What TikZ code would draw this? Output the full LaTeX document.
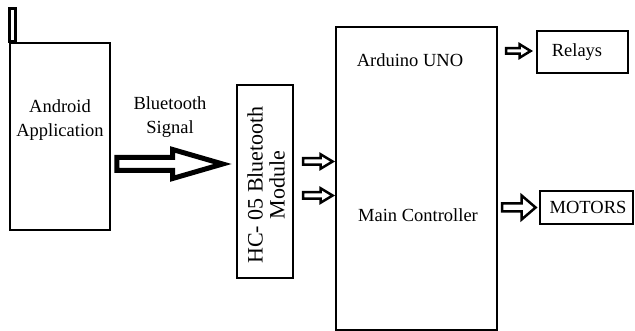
\documentclass[tikz,border=0pt]{standalone}
\usepackage{fontspec}
\setmainfont{Liberation Serif}
\usetikzlibrary{calc}
\tikzset{
  box/.style={draw=black, line width=2.8pt, fill=white, inner sep=0pt, minimum width=#1},
  lbl/.style={font=\fontsize{18.5}{24}\selectfont, align=center, inner sep=0pt},
  vlbl/.style={font=\fontsize{22}{22}\selectfont, align=center, inner sep=0pt, rotate=90},
  thinarr/.style={draw=black, line width=2.5pt, fill=white},
  bigarr/.style={draw=black, line width=5pt, fill=white}
}
% #1 style, #2 start, #3 tip, #4 shaft half width, #5 head half width, #6 head length
\newcommand\blockarr[6]{%
  \draw[#1] let \p1=(#2), \p2=(#3) in
    (\x1,{\y1+#4pt}) -- ({\x2-#6pt},{\y1+#4pt}) -- ({\x2-#6pt},{\y1+#5pt}) -- (\x2,\y1)
    -- ({\x2-#6pt},{\y1-#5pt}) -- ({\x2-#6pt},{\y1-#4pt}) -- (\x1,{\y1-#4pt}) -- cycle;}
\begin{document}
\begin{tikzpicture}[x=1pt,y=-1pt]
\path[fill=white,use as bounding box] (0,0) rectangle (635,331);
% boxes
\node[box=100pt, minimum height=187pt] (android) at (60,136.5) {};
\draw[black, line width=2.8pt] ($(android.north west)+(1,0)$) rectangle ++(6,-33);
\node[box=56pt, minimum height=193pt] (hc) at (265,181.5) {};
\node[box=161pt, minimum height=303pt] (ard) at (416.5,178.5) {};
\node[box=91pt, minimum height=42pt] (relays) at (582.5,52) {};
\node[box=93pt, minimum height=33pt] (motors) at (586.5,207.5) {};
% texts
\node[lbl] (tandroid) at (60,120) {Android\\Application};
\node[lbl] (tsignal) at (170,117) {Bluetooth\\Signal};
\node[vlbl] (thc) at (266,185) {HC- 05 Bluetooth\\Module};
\node[lbl] (tuno) at (410,60) {Arduino UNO};
\node[lbl] (tmain) at (418,215) {Main Controller};
\node[lbl] (trelays) at (577,52) {Relays};
\node[lbl] (tmotors) at (588,207) {MOTORS};
% arrows
\coordinate (bs) at ($(android.east)+(5.5,27.5)$);
\coordinate (bt) at ($(hc.west)+(-13,-17.5)$);
\blockarr{bigarr}{bs}{bt}{6.5}{14.5}{50}
\coordinate (s1) at (303,161.5);
\coordinate (t1) at ($(ard.west |- s1)+(-2,0)$);
\blockarr{thinarr}{s1}{t1}{3.25}{7.2}{12}
\coordinate (s2) at (303,195.5);
\coordinate (t2) at ($(ard.west |- s2)+(-2,0)$);
\blockarr{thinarr}{s2}{t2}{3.25}{7.2}{12}
\coordinate (s3) at (506,51);
\coordinate (t3) at ($(relays.west |- s3)+(-5,0)$);
\blockarr{thinarr}{s3}{t3}{2.75}{6.75}{11}
\coordinate (s4) at (502,207.5);
\coordinate (t4) at ($(motors.west |- s4)+(-3,0)$);
\blockarr{thinarr}{s4}{t4}{4}{12}{14}
\end{tikzpicture}
\end{document}
